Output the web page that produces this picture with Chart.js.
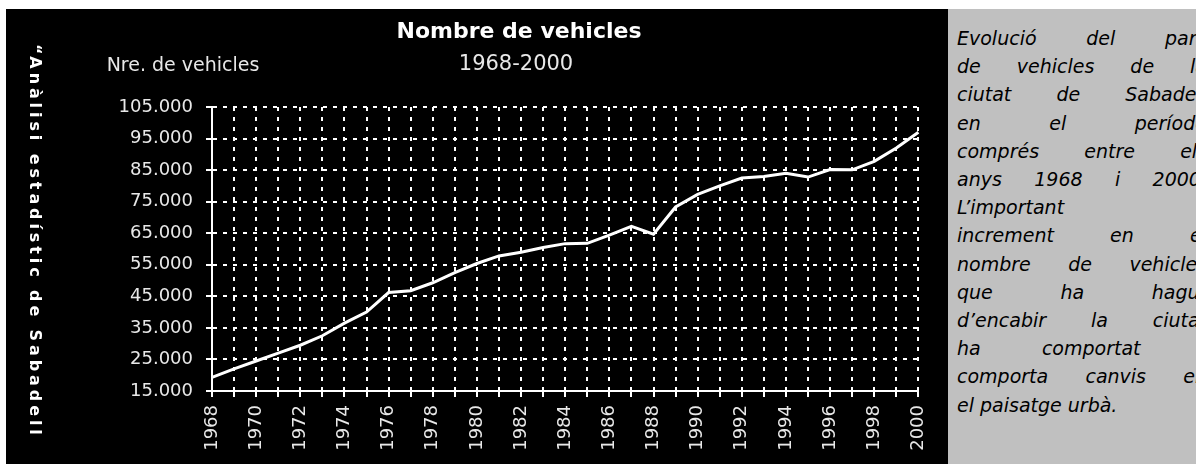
<!DOCTYPE html>
<html><head><meta charset="utf-8">
<script src="https://cdn.jsdelivr.net/npm/chart.js@4.4.1/dist/chart.umd.min.js"></script>
<style>
html,body{margin:0;padding:0;width:1196px;height:464px;overflow:hidden;background:#fff;}
#black{position:absolute;left:6px;top:9px;width:942px;height:455px;background:#000;}
#panel{position:absolute;left:948px;top:9px;width:248px;height:455px;background:#c0c0c0;overflow:hidden;}
#chartwrap{position:absolute;left:6px;top:9px;width:942px;height:455px;}
#side{position:absolute;left:26px;top:44px;writing-mode:vertical-rl;color:#fff;font:bold 16px 'DejaVu Sans',sans-serif;line-height:18px;letter-spacing:3.9px;white-space:nowrap;}
.t{position:absolute;color:#fff;white-space:nowrap;font-family:'DejaVu Sans',sans-serif;transform:translate(-50%,-50%);}
#text{position:absolute;left:9px;top:14.9px;width:250px;font:italic 19px 'DejaVu Sans',sans-serif;color:#000;line-height:28.2px;}
#text div{text-align:justify;text-align-last:justify;white-space:nowrap;}
#text div.l{text-align:left;text-align-last:left;}
</style></head>
<body>
<div id="black"></div>
<div id="chartwrap"><canvas id="c" width="942" height="455"></canvas></div>
<div id="side">“Anàlisi estadístic de Sabadell</div>
<div class="t" style="left:519px;top:30px;font-weight:bold;font-size:22px;">Nombre de vehicles</div>
<div class="t" style="left:516px;top:63px;font-size:21px;color:#e8e8e8;">1968-2000</div>
<div class="t" style="left:183px;top:64px;font-size:19px;color:#e8e8e8;">Nre. de vehicles</div>
<div id="panel"><div id="text">
<div>Evolució del parc</div>
<div>de vehicles de la</div>
<div>ciutat de Sabadell</div>
<div>en el període</div>
<div>comprés entre els</div>
<div>anys 1968 i 2000.</div>
<div class="l">L’important</div>
<div>increment en el</div>
<div>nombre de vehicles</div>
<div>que ha hagut</div>
<div>d’encabir la ciutat</div>
<div>ha comportat i</div>
<div>comporta canvis en</div>
<div class="l">el paisatge urbà.</div>
</div></div>
<script>
const years = ['1968','1969','1970','1971','1972','1973','1974','1975','1976','1977','1978','1979','1980','1981','1982','1983','1984','1985','1986','1987','1988','1989','1990','1991','1992','1993','1994','1995','1996','1997','1998','1999','2000'];
const vehicles = [19300,22000,24500,27000,29500,32500,36500,40000,46200,46800,49300,52500,55400,57800,59000,60500,61700,61800,64400,67200,64700,73300,77300,80000,82500,83000,84000,82800,85200,85100,87800,92000,97000];
const yMin = 15000, yMax = 105000, yStep = 10000;

function fmt(v){ return String(v).replace(/\B(?=(\d{3})+(?!\d))/g,'.'); }

Chart.defaults.font.family = "'DejaVu Sans', sans-serif";
Chart.defaults.font.size = 18;
Chart.defaults.color = '#e8e8e8';

new Chart(document.getElementById('c'), {
  type: 'line',
  data: { labels: years, datasets: [{ data: vehicles, borderColor: '#fff', borderWidth: 3, pointRadius: 0, tension: 0, fill: false }] },
  options: {
    responsive: false, animation: false,
    layout: { padding: { left: 0, right: 20, top: 98, bottom: 0 } },
    plugins: { legend: { display: false }, tooltip: { enabled: false } },
    scales: {
      x: {
        type: 'category', offset: false,
        afterFit: s => { s.height = 73; },
        grid: { color: '#fff', lineWidth: 2, tickLength: 6, tickColor: '#fff', tickWidth: 2, tickBorderDash: [] },
        border: { display: true, color: '#fff', width: 2, dash: [4, 6] },
        ticks: { autoSkip: false, maxRotation: 90, minRotation: 90, padding: 8, color: '#e8e8e8',
          callback: function(v, i){ return i % 2 === 0 ? years[i] : ''; } }
      },
      y: {
        min: yMin, max: yMax,
        afterFit: s => { s.width = 206; },
        grid: { color: '#fff', lineWidth: 2, tickLength: 6, tickColor: '#fff', tickWidth: 2, tickBorderDash: [] },
        border: { display: true, color: '#fff', width: 2, dash: [4, 6] },
        ticks: { stepSize: yStep, padding: 13, color: '#e8e8e8', callback: v => fmt(v) }
      }
    }
  }
});
</script>
</body></html>
